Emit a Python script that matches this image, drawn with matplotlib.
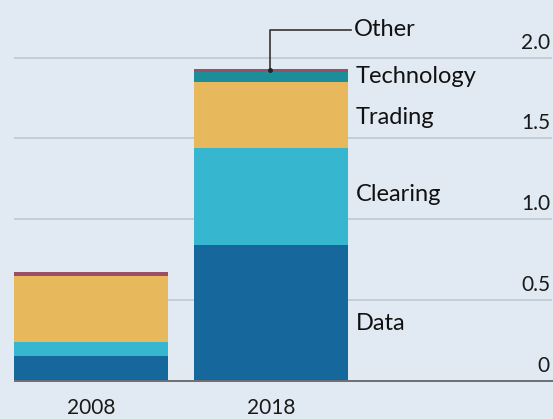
import matplotlib.pyplot as plt

plt.rcParams["font.family"] = ["Lato", "DejaVu Sans"]

years = ["2008", "2018"]
segments = ["Data", "Clearing", "Trading", "Technology", "Other"]
data = [0.15, 0.84]
clearing = [0.09, 0.60]
trading = [0.41, 0.41]
technology = [0.0, 0.06]
other = [0.02, 0.02]
ticks = [0, 0.5, 1.0, 1.5, 2.0]
tick_labels = ["0", "0.5", "1.0", "1.5", "2.0"]

colors = ["#16679c", "#36b6cf", "#e8b85c", "#1b8e99", "#9a4f66"]
bg = "#e1eaf2"

fig = plt.figure(figsize=(5.53, 4.19), dpi=100)
fig.patch.set_facecolor(bg)
ax = fig.add_axes([0, 0, 1, 1])
ax.set_facecolor(bg)
ax.axis("off")

# pixel mapping: bar centres at x=91 and 271 px, 0 at y=380.5 px, 161.5 px per unit
ax.set_xlim(-91 / 180, (553 - 91) / 180)
ax.set_ylim((380.5 - 419) / 161.5, 380.5 / 161.5)

# gridlines
for t in ticks[1:]:
    ax.hlines(t, -0.43, 2.56, color="#bfc9d2", lw=1.2, zorder=0)
ax.hlines(0, -0.43, 2.6, color="#6b6f73", lw=1.4, zorder=3)

for t, lab in zip(ticks, tick_labels):
    ax.text(2.55, t + 0.03, lab, ha="right", va="bottom", fontsize=15, color="#1a1a1a")

x = [0, 1]
w = 0.855
bottom = [0.0, 0.0]
for vals, c in zip([data, clearing, trading, technology, other], colors):
    ax.bar(x, vals, width=w, bottom=bottom, color=c, zorder=2, linewidth=0)
    bottom = [b + v for b, v in zip(bottom, vals)]

for i, yr in enumerate(years):
    ax.text(x[i], -0.17, yr, ha="center", va="center", fontsize=15, color="#1a1a1a")

# segment labels for 2018 bar, placed at segment midpoints
lab_x = (356 - 91) / 180
label_y = {"Technology": 1.885, "Trading": 1.63, "Clearing": 1.15, "Data": 0.35}
for name, yv in label_y.items():
    ax.text(lab_x, yv, name, ha="left", va="center", fontsize=17, color="#111111")

# Other with leader line
top18 = bottom[1]
lx = (270 - 91) / 180
ly = (380.5 - 30) / 161.5
ax.plot([lx, lx, (351 - 91) / 180], [top18 - 0.01, ly, ly], color="#333333", lw=1.2, zorder=4)
ax.plot([lx], [top18 - 0.01], marker="o", ms=2.5, color="#222222", zorder=5)
ax.text((354 - 91) / 180, ly, "Other", ha="left", va="center", fontsize=17, color="#111111")

fig.savefig("out.png", dpi=100, facecolor=bg)
